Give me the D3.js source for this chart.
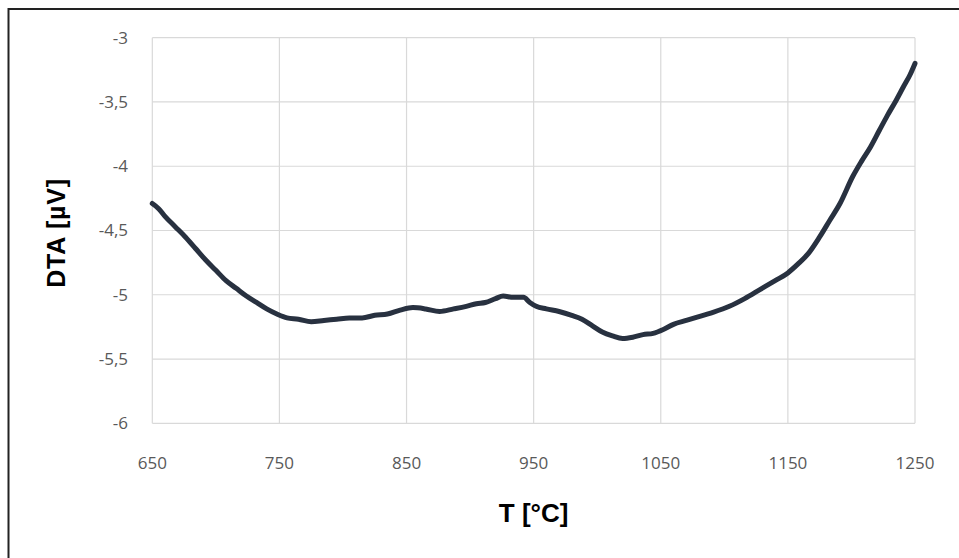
<!DOCTYPE html>
<html><head><meta charset="utf-8">
<script src="https://cdn.jsdelivr.net/npm/d3@7"></script>
<style>html,body{margin:0;padding:0;background:#fff;}svg{display:block;}</style>
</head><body>
<svg id="c" width="959" height="558"></svg>
<script>
const temps = [650,655,660,668,676,684,692,700,708,716,724,732,740,748,756,765,775,785,795,805,815,825,835,845,855,865,876,887,897,905,912,920,926,934,942,947,952,960,970,980,988,996,1004,1012,1020,1028,1036,1044,1052,1060,1070,1080,1090,1104,1116,1128,1140,1150,1158,1166,1175,1183,1191,1201,1208,1215,1222,1228,1235,1241,1246,1250];
const dta = [-4.29,-4.33,-4.39,-4.47,-4.55,-4.64,-4.73,-4.81,-4.89,-4.95,-5.01,-5.06,-5.11,-5.15,-5.18,-5.19,-5.21,-5.20,-5.19,-5.18,-5.18,-5.16,-5.15,-5.12,-5.10,-5.11,-5.13,-5.11,-5.09,-5.07,-5.06,-5.03,-5.01,-5.02,-5.02,-5.06,-5.09,-5.11,-5.13,-5.16,-5.19,-5.24,-5.29,-5.32,-5.34,-5.33,-5.31,-5.30,-5.27,-5.23,-5.20,-5.17,-5.14,-5.09,-5.03,-4.96,-4.89,-4.83,-4.76,-4.68,-4.55,-4.42,-4.29,-4.08,-3.96,-3.85,-3.72,-3.61,-3.49,-3.38,-3.29,-3.20];
const xTicks = [650,750,850,950,1050,1150,1250];
const yTicks = [-3,-3.5,-4,-4.5,-5,-5.5,-6];
const xTitle = "T [°C]";
const yTitle = "DTA [µV]";

const svg = d3.select("#c");
const L = 152.3, R = 915, T = 37.7, B = 423.3;
const x = d3.scaleLinear().domain([650,1250]).range([L,R]);
const y = d3.scaleLinear().domain([-6,-3]).range([B,T]);

// frame
svg.append("rect").attr("x",8.5).attr("y",9).attr("width",960).attr("height",560)
  .attr("fill","none").attr("stroke","#222").attr("stroke-width",2);

const grid = svg.append("g");
grid.selectAll("line.h").data(yTicks).enter().append("line")
  .attr("x1",L).attr("x2",R).attr("y1",d=>y(d)).attr("y2",d=>y(d))
  .attr("stroke","#d9d9d9").attr("stroke-width",1.2);
grid.selectAll("line.v").data(xTicks).enter().append("line")
  .attr("y1",T).attr("y2",B).attr("x1",d=>x(d)).attr("x2",d=>x(d))
  .attr("stroke","#d9d9d9").attr("stroke-width",1.2);

const fmt = d => String(d).replace(".", ",");
svg.append("g").selectAll("text").data(yTicks).enter().append("text")
  .attr("x",128).attr("y",d=>y(d)).attr("dy","0.35em").attr("text-anchor","end")
  .attr("font-family","Open Sans").attr("font-size",17).attr("fill","#595959")
  .text(fmt);
svg.append("g").selectAll("text").data(xTicks).enter().append("text")
  .attr("x",d=>x(d)).attr("y",463).attr("dy","0.35em").attr("text-anchor","middle")
  .attr("font-family","Open Sans").attr("font-size",17).attr("fill","#595959")
  .text(d=>d);

svg.append("text").attr("x",(L+R)/2).attr("y",522).attr("text-anchor","middle")
  .attr("font-family","Liberation Sans").attr("font-weight","bold").attr("font-size",26)
  .attr("fill","#000").text(xTitle);
svg.append("text").attr("transform",`translate(65,233) rotate(-90)`)
  .attr("text-anchor","middle")
  .attr("font-family","Liberation Sans").attr("font-weight","bold").attr("font-size",25)
  .attr("letter-spacing",0.8)
  .attr("fill","#000").text(yTitle);

const pts = temps.map((t,i)=>[t,dta[i]]);
svg.append("path").datum(pts)
  .attr("d", d3.line().x(d=>x(d[0])).y(d=>y(d[1])).curve(d3.curveMonotoneX))
  .attr("fill","none").attr("stroke","#283140").attr("stroke-width",5)
  .attr("stroke-linejoin","round").attr("stroke-linecap","round");
</script>
</body></html>
